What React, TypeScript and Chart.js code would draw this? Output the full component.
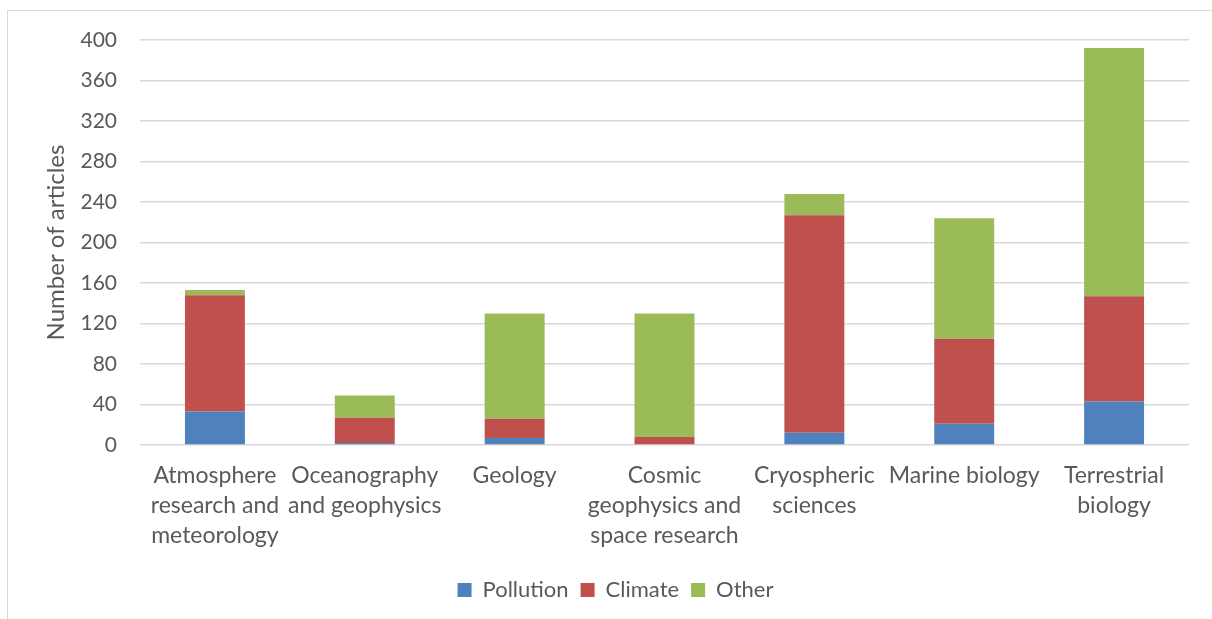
import React, { useEffect, useRef } from "react";
import { Chart, registerables } from "chart.js";

Chart.register(...registerables);

const categories: string[][] = [
  ["Atmosphere", "research and", "meteorology"],
  ["Oceanography", "and geophysics"],
  ["Geology"],
  ["Cosmic", "geophysics and", "space research"],
  ["Cryospheric", "sciences"],
  ["Marine biology"],
  ["Terrestrial", "biology"],
];

const pollution = [33, 2, 7, 0, 12, 21, 43];
const climate = [115, 25, 19, 8, 215, 84, 104];
const other = [5, 22, 104, 122, 21, 119, 245];

const yTicks = [0, 40, 80, 120, 160, 200, 240, 280, 320, 360, 400];

const FONT = "Lato";
const TEXT = "#595959";

export default function App() {
  const ref = useRef<HTMLCanvasElement | null>(null);

  useEffect(() => {
    if (!ref.current) return;
    const chart = new Chart(ref.current, {
      type: "bar",
      data: {
        labels: categories,
        datasets: [
          { label: "Pollution", data: pollution, backgroundColor: "#4F81BD", borderWidth: 0 },
          { label: "Climate", data: climate, backgroundColor: "#C0504D", borderWidth: 0 },
          { label: "Other", data: other, backgroundColor: "#9BBB59", borderWidth: 0 },
        ],
      },
      options: {
        responsive: false,
        animation: false,
        layout: { padding: { left: 42, right: 23, top: 40, bottom: 8 } },
        datasets: { bar: { categoryPercentage: 1, barPercentage: 0.4 } },
        plugins: {
          tooltip: { enabled: false },
          legend: {
            position: "bottom",
            labels: {
              boxWidth: 14,
              boxHeight: 14,
              padding: 12,
              color: TEXT,
              font: { family: FONT, size: 22 },
            },
          },
        },
        scales: {
          x: {
            stacked: true,
            grid: { display: false },
            border: { display: false },
            ticks: {
              color: TEXT,
              font: { family: FONT, size: 23, lineHeight: 1.3 },
              padding: 8,
              maxRotation: 0,
              autoSkip: false,
            },
            afterFit: (s: any) => {
              s.height = 122;
            },
          },
          y: {
            stacked: true,
            min: 0,
            max: 400,
            afterBuildTicks: (s: any) => {
              s.ticks = yTicks.map((v) => ({ value: v }));
            },
            grid: { color: "#D9D9D9", lineWidth: 1.5, drawTicks: false },
            border: { display: false },
            ticks: {
              color: TEXT,
              font: { family: FONT, size: 21 },
              padding: 23,
            },
            title: {
              display: true,
              text: "Number of articles",
              color: TEXT,
              font: { family: FONT, size: 24 },
              padding: 0,
            },
            afterFit: (s: any) => {
              s.width = 98;
            },
          },
        },
      },
    });
    return () => chart.destroy();
  }, []);

  return (
    <div style={{ position: "absolute", left: 0, top: 0, width: 1212, height: 619, background: "#fff" }}>
      <div
        style={{
          position: "absolute",
          left: 7,
          top: 10,
          width: 1220,
          height: 640,
          border: "1px solid #D9D9D9",
          boxSizing: "border-box",
        }}
      />
      <canvas ref={ref} width={1212} height={619} style={{ position: "absolute", left: 0, top: 0 }} />
    </div>
  );
}
